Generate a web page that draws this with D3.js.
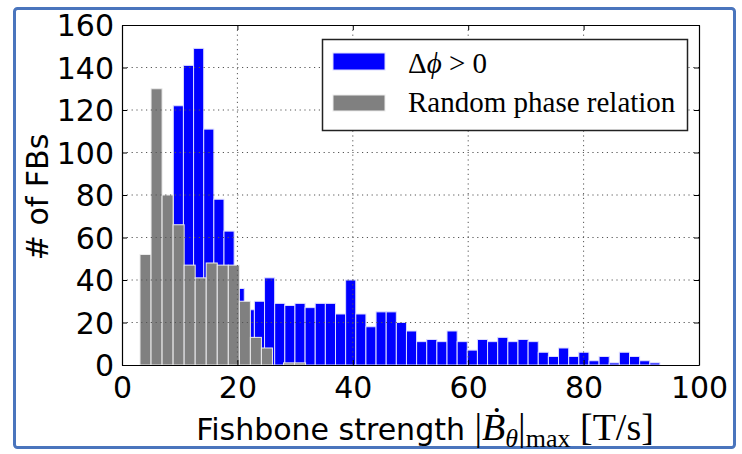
<!DOCTYPE html>
<html>
<head>
<meta charset="utf-8">
<script src="https://cdn.jsdelivr.net/npm/d3@7"></script>
<style>
body { margin: 0; background: #fff; }
</style>
</head>
<body>
<div id="chart"></div>
<script>
// Histogram counts (blue: delta phi > 0, gray: random phase)
var blueCounts = [122, 141, 149, 111, 78, 63, 36, 26, 30, 41,
	29, 28, 29, 27, 29, 29, 24, 40, 24, 18,
	25, 25, 20, 16, 11, 12, 11, 16, 11, 7,
	12, 11, 13, 11, 12, 11, 6, 4, 8, 4,
	6, 2, 4, 1, 6, 4, 2, 1];
var blueStart = 8.89, blueWidth = 1.757;

var grayCounts = [52, 130, 80, 66, 47, 41, 48, 47, 47, 30, 13, 8, 0, 1, 1];
var grayStart = 3.12, grayWidth = 1.913;

var xTicks = [0, 20, 40, 60, 80, 100];
var yTicks = [0, 20, 40, 60, 80, 100, 120, 140, 160];

// Define margin and dimensions for svg
var margin = {top: 25, right: 43, bottom: 89, left: 122};
var W = 742, H = 454;
var width = W - margin.left - margin.right;
var height = H - margin.top - margin.bottom;

var svg = d3.select("div#chart").append("svg")
	.attr("width", W)
	.attr("height", H);

// outer blue frame
svg.append("rect")
	.attr("x", 14.5).attr("y", 8.5)
	.attr("width", 720).attr("height", 439)
	.attr("rx", 3)
	.attr("fill", "#fff")
	.attr("stroke", "#4a75bd")
	.attr("stroke-width", 3);

var g = svg.append("g")
	.attr("transform", "translate(" + margin.left + "," + margin.top + ")");

var x = d3.scaleLinear().domain([0, 100]).range([0, width]);
var y = d3.scaleLinear().domain([0, 160]).range([height, 0]);

function bins(counts, start, w) {
	return counts.map(function(c, i) {
		return {x0: start + i * w, x1: start + (i + 1) * w, n: c};
	});
}

// blue drawn first, gray on top
g.append("g").selectAll("rect")
	.data(bins(blueCounts, blueStart, blueWidth))
	.enter().append("rect")
	.attr("x", d => x(d.x0))
	.attr("width", d => x(d.x1) - x(d.x0))
	.attr("y", d => y(d.n))
	.attr("height", d => y(0) - y(d.n))
	.attr("fill", "#0000ff")
	.attr("stroke", "#dcdcff")
	.attr("stroke-width", 1);

g.append("g").selectAll("rect")
	.data(bins(grayCounts, grayStart, grayWidth))
	.enter().append("rect")
	.attr("x", d => x(d.x0))
	.attr("width", d => x(d.x1) - x(d.x0))
	.attr("y", d => y(d.n))
	.attr("height", d => y(0) - y(d.n))
	.attr("fill", "#808080")
	.attr("stroke", "#ececec")
	.attr("stroke-width", 1);

// dotted grid
g.append("g").selectAll("line")
	.data(xTicks.slice(1, -1))
	.enter().append("line")
	.attr("x1", d => x(d)).attr("x2", d => x(d))
	.attr("y1", 0).attr("y2", height)
	.attr("stroke", "#555")
	.attr("stroke-dasharray", "1.2,3.6");

g.append("g").selectAll("line")
	.data(yTicks.slice(1, -1))
	.enter().append("line")
	.attr("x1", 0).attr("x2", width)
	.attr("y1", d => y(d)).attr("y2", d => y(d))
	.attr("stroke", "#555")
	.attr("stroke-dasharray", "1.2,3.6");

// axes, ticks pointing inward
var font = "'DejaVu Sans', sans-serif";

var xAxis = g.append("g")
	.attr("transform", "translate(0," + height + ")")
	.call(d3.axisBottom(x).tickValues(xTicks).tickSize(-5).tickSizeOuter(0).tickPadding(10));
var yAxis = g.append("g")
	.call(d3.axisLeft(y).tickValues(yTicks).tickSize(-5).tickSizeOuter(0).tickPadding(8));
g.append("g")
	.call(d3.axisTop(x).tickValues(xTicks).tickSize(-5).tickSizeOuter(0).tickFormat(""));
g.append("g")
	.attr("transform", "translate(" + width + ",0)")
	.call(d3.axisRight(y).tickValues(yTicks).tickSize(-5).tickSizeOuter(0).tickFormat(""));

g.selectAll(".domain").attr("stroke", "#000").attr("stroke-width", 1.2);
g.selectAll(".tick line").attr("stroke", "#000");
xAxis.selectAll("text").attr("font-family", font).attr("font-size", 30).attr("fill", "#000")
	.attr("dy", "0.75em");
yAxis.selectAll("text").attr("font-family", font).attr("font-size", 30).attr("fill", "#000")
	.attr("dy", "0.36em");

// axis labels
svg.append("text")
	.attr("transform", "translate(48,197) rotate(-90)")
	.attr("text-anchor", "middle")
	.attr("font-family", font)
	.attr("font-size", 30)
	.text("# of FBs");

var serif = "'Liberation Serif', serif";
var xl = svg.append("text")
	.attr("x", 425).attr("y", 440)
	.attr("text-anchor", "middle")
	.attr("font-family", font)
	.attr("font-size", 30);
xl.append("tspan").text("Fishbone strength ");
xl.append("tspan").attr("font-family", serif).attr("font-size", 38).text("|");
xl.append("tspan").attr("font-family", serif).attr("font-size", 38).attr("font-style", "italic").text("\u1E02");
xl.append("tspan").attr("font-family", serif).attr("font-size", 26).attr("font-style", "italic").attr("dy", 7).text("\u03B8");
xl.append("tspan").attr("font-family", serif).attr("font-size", 38).attr("dy", -7).text("|");
xl.append("tspan").attr("font-family", serif).attr("font-size", 26).attr("dy", 7).text("max");
xl.append("tspan").attr("font-family", serif).attr("font-size", 38).attr("dy", -7).text(" [T/s]");

// legend
var legend = svg.append("g");
legend.append("rect")
	.attr("x", 322.5).attr("y", 39.5)
	.attr("width", 365).attr("height", 91)
	.attr("fill", "#fff")
	.attr("stroke", "#222")
	.attr("stroke-width", 1.5);
legend.append("rect")
	.attr("x", 333).attr("y", 53).attr("width", 52).attr("height", 17)
	.attr("fill", "#0000ff").attr("stroke", "#dcdcff");
legend.append("rect")
	.attr("x", 333).attr("y", 95).attr("width", 52).attr("height", 16)
	.attr("fill", "#808080").attr("stroke", "#ececec");

var l1 = legend.append("text")
	.attr("x", 408).attr("y", 73)
	.attr("font-family", serif)
	.attr("font-size", 29);
l1.append("tspan").text("\u0394");
l1.append("tspan").attr("font-style", "italic").text("\u03D5");
l1.append("tspan").text(" > 0");

legend.append("text")
	.attr("x", 408).attr("y", 112)
	.attr("font-family", serif)
	.attr("font-size", 29)
	.text("Random phase relation");
</script>
</body>
</html>
